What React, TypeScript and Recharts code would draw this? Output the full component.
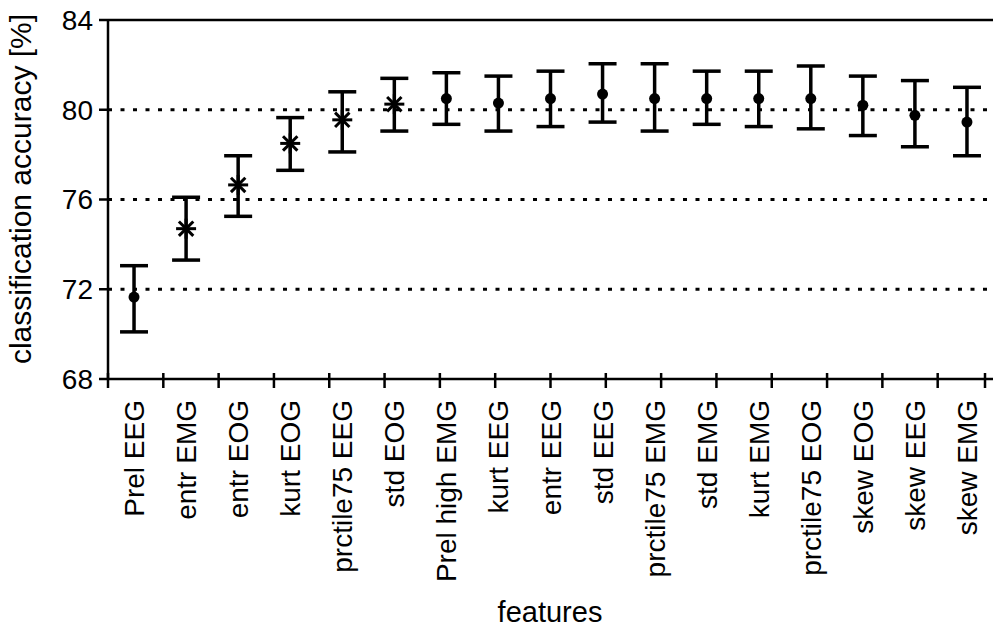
import React from 'react';
import { ComposedChart, Line, ErrorBar, XAxis, YAxis, CartesianGrid, ReferenceLine } from 'recharts';

const features = [
  'Prel EEG', 'entr EMG', 'entr EOG', 'kurt EOG', 'prctile75 EEG', 'std EOG',
  'Prel high EMG', 'kurt EEG', 'entr EEG', 'std EEG', 'prctile75 EMG', 'std EMG',
  'kurt EMG', 'prctile75 EOG', 'skew EOG', 'skew EEG', 'skew EMG',
];
const accuracy = [71.65, 74.7, 76.65, 78.5, 79.55, 80.25, 80.5, 80.3, 80.5, 80.7, 80.5, 80.5, 80.5, 80.5, 80.2, 79.75, 79.45];
const upper = [73.05, 76.1, 77.95, 79.65, 80.8, 81.4, 81.65, 81.5, 81.72, 82.05, 82.05, 81.72, 81.72, 81.95, 81.5, 81.3, 81.0];
const lower = [70.1, 73.3, 75.25, 77.3, 78.12, 79.05, 79.35, 79.05, 79.25, 79.45, 79.05, 79.35, 79.25, 79.15, 78.85, 78.35, 77.95];
const markers = ['dot', 'star', 'star', 'star', 'star', 'star', 'dot', 'dot', 'dot', 'dot', 'dot', 'dot', 'dot', 'dot', 'dot', 'dot', 'dot'];
const yTicks = [68, 72, 76, 80, 84];
const boundaryTicks = Array.from({ length: 18 }, (_, i) => i);

const data = features.map((name, i) => ({
  name,
  acc: accuracy[i],
  err: [accuracy[i] - lower[i], upper[i] - accuracy[i]],
  marker: markers[i],
}));

const FONT = '"Liberation Sans", Arial, sans-serif';

const Marker = (props: any) => {
  const { cx, cy, payload } = props;
  if (cx == null || cy == null) return null;
  if (payload.marker === 'star') {
    const r = 10;
    const d = r * 0.72;
    return (
      <g stroke="#000" strokeWidth={3}>
        <line x1={cx - r} y1={cy} x2={cx + r} y2={cy} />
        <line x1={cx} y1={cy - r} x2={cx} y2={cy + r} />
        <line x1={cx - d} y1={cy - d} x2={cx + d} y2={cy + d} />
        <line x1={cx - d} y1={cy + d} x2={cx + d} y2={cy - d} />
      </g>
    );
  }
  return <circle cx={cx} cy={cy} r={5.5} fill="#000" />;
};

const FeatureTick = (props: any) => {
  const { x, y, payload } = props;
  const tx = x + 10;
  const ty = y + 21;
  return (
    <text x={tx} y={ty} transform={`rotate(-90, ${tx}, ${ty})`} textAnchor="end" fontSize={28} fontFamily={FONT} fill="#000">
      {payload.value}
    </text>
  );
};

const BoundaryTick = (props: any) => {
  const { x, y } = props;
  return <line x1={x} y1={y - 7} x2={x} y2={y + 8} stroke="#000" strokeWidth={2.5} />;
};

export default function App() {
  return (
    <div style={{ position: 'absolute', left: 0, top: 0, background: '#fff' }}>
      <ComposedChart width={993} height={633} data={data} margin={{ top: 20, right: 0, left: 0, bottom: 0 }}>
        <CartesianGrid vertical={false} horizontalValues={[72, 76, 80]} stroke="#000" strokeWidth={3} strokeDasharray="4 8.5" />
        <ReferenceLine y={84} stroke="#000" strokeWidth={2.5} />
        <XAxis
          dataKey="name"
          scale="band"
          interval={0}
          height={1}
          axisLine={{ stroke: '#000', strokeWidth: 2.5 }}
          tickLine={false}
          tickSize={0}
          tickMargin={0}
          tick={<FeatureTick />}
        />
        <XAxis
          xAxisId="bounds"
          type="number"
          domain={[0, 17]}
          ticks={boundaryTicks}
          height={253}
          axisLine={false}
          tickLine={false}
          tickSize={0}
          tickMargin={0}
          tick={<BoundaryTick />}
        />
        <YAxis
          domain={[68, 84]}
          ticks={yTicks}
          width={108}
          axisLine={{ stroke: '#000', strokeWidth: 2.5 }}
          tickLine={{ stroke: '#000', strokeWidth: 2.5 }}
          tickSize={9}
          tickMargin={6}
          tick={{ fill: '#000', fontSize: 28, fontFamily: FONT }}
        />
        <Line
          dataKey="acc"
          stroke="none"
          isAnimationActive={false}
          dot={<Marker />}
          activeDot={false}
        >
          <ErrorBar dataKey="err" width={14} stroke="#000" strokeWidth={3.5} />
        </Line>
        <text x={31} y={189} transform="rotate(-90, 31, 189)" textAnchor="middle" fontSize={30} fontFamily={FONT} fill="#000">
          classification accuracy [%]
        </text>
        <text x={550} y={622} textAnchor="middle" fontSize={29} fontFamily={FONT} fill="#000">
          features
        </text>
      </ComposedChart>
    </div>
  );
}
